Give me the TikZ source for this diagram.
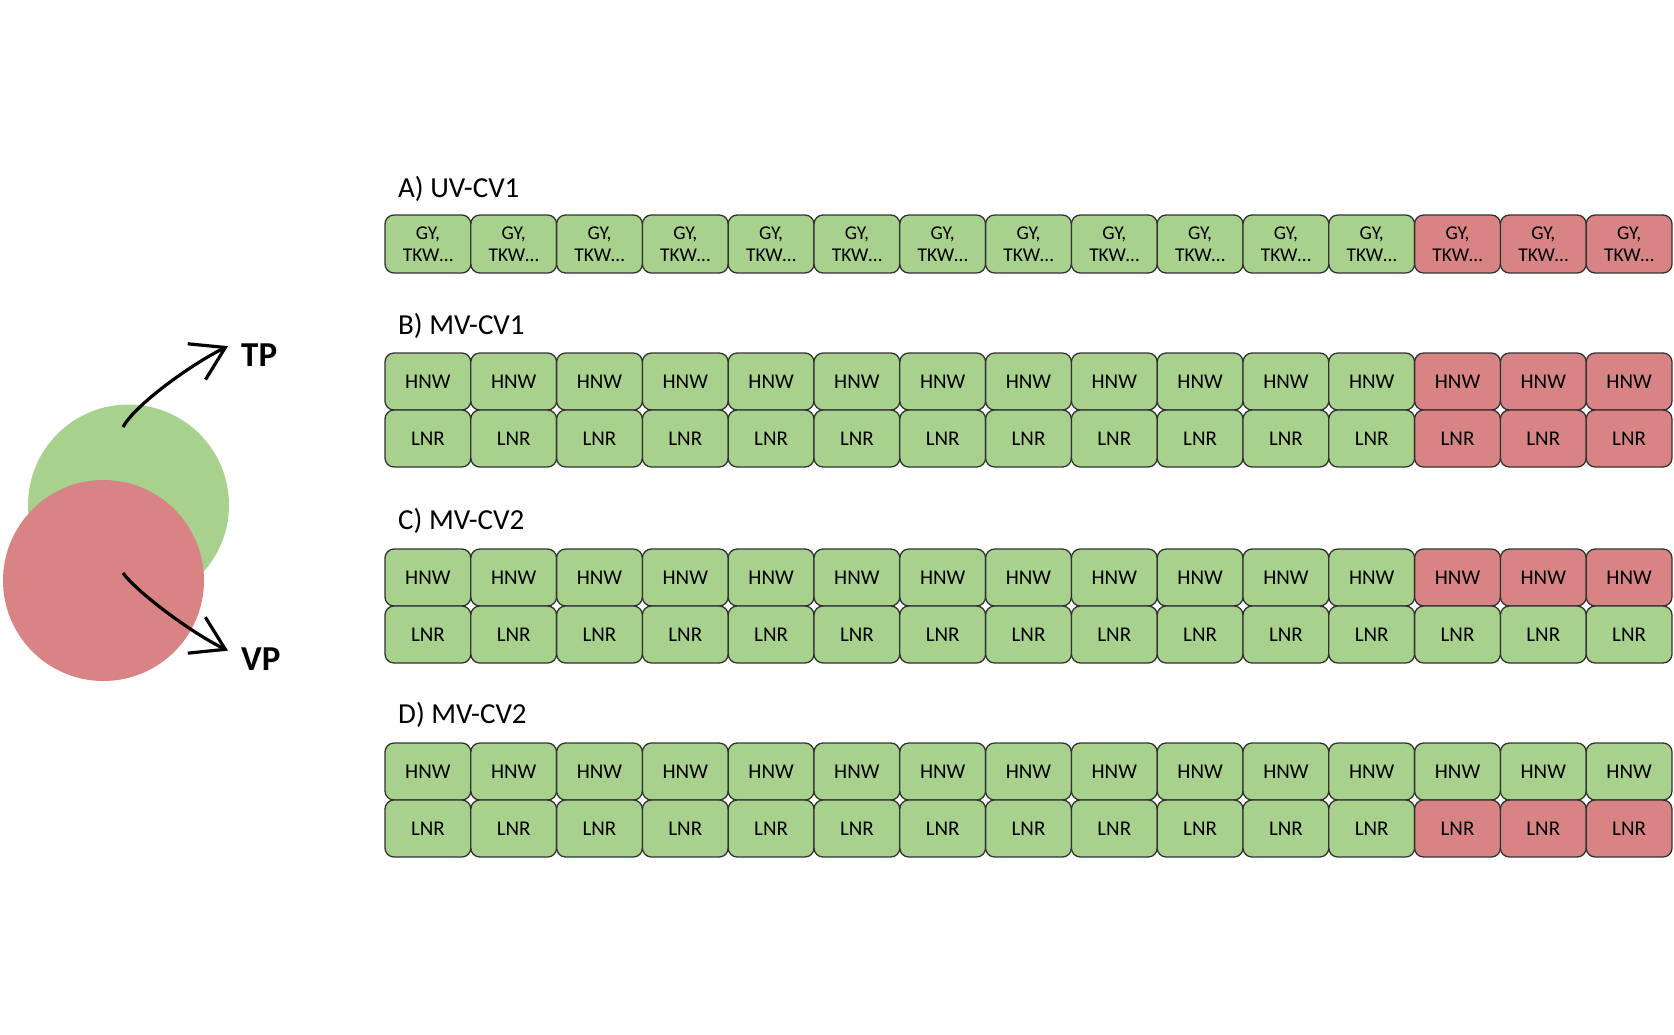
\documentclass[tikz,border=0pt]{standalone}
\usepackage{fontspec}
\setmainfont{Carlito}
\usetikzlibrary{arrows.meta}

\definecolor{okgreen}{RGB}{169,209,142}
\definecolor{badred}{RGB}{216,132,133}
\definecolor{celledge}{RGB}{50,50,50}

\begin{document}
\begin{tikzpicture}[
  x=1pt, y=-1pt,
  cell/.style={
    rectangle, rounded corners=9pt, draw=celledge, line width=1.3pt,
    minimum width=85.8pt, minimum height=57pt, inner sep=0pt,
    align=center, font=\fontsize{21}{23}\selectfont
  },
  cellA/.style={cell, minimum height=58pt, font=\fontsize{19.5}{22.5}\selectfont},
  rowlabel/.style={anchor=base west, inner sep=0pt, font=\fontsize{29}{33}\selectfont},
  disc/.style={circle, minimum size=201pt, inner sep=0pt},
  outcome/.style={anchor=base west, inner sep=0pt, font=\fontsize{35}{40}\selectfont\bfseries},
  curvearrow/.style={line width=3.2pt, -{Straight Barb[length=32pt, width=40pt]}}
]

\useasboundingbox (0,0) rectangle (1674,1034);

% --- Left: the two overlapping sets ---
\node[disc, fill=okgreen] (tpset) at (128.5,505) {};
\node[disc, fill=badred]  (vpset) at (103.5,580.5) {};

\node[outcome] (tp) at (241,366) {TP};
\node[outcome] (vp) at (241,670) {VP};

\coordinate (tpfrom) at (123,427);
\coordinate (vpfrom) at (123,573);

\draw[curvearrow] (tpfrom) .. controls (135,405) and (190,365) .. ([xshift=-13pt,yshift=-3pt]tp.north west);
\draw[curvearrow] (vpfrom) .. controls (137,592) and (190,632) .. ([xshift=-13pt,yshift=8pt]vp.west);

% =========================================================
% A) one row of GY, TKW... cells
% =========================================================
\node[rowlabel] (la) at (398,197) {A) UV-CV1};
\foreach \i in {1,...,15} {
  \pgfmathsetmacro{\cx}{342.1+85.8*\i}
  \ifnum\i>12 \def\tint{badred}\else\def\tint{okgreen}\fi
  \node[cellA, fill=\tint] (a-\i) at (\cx,244) {GY,\\TKW…};
}

% =========================================================
% B) both rows held out together
% =========================================================
\node[rowlabel] (lb) at (398,334) {B) MV-CV1};
\foreach \i in {1,...,15} {
  \pgfmathsetmacro{\cx}{342.1+85.8*\i}
  \ifnum\i>12 \def\tint{badred}\else\def\tint{okgreen}\fi
  \node[cell, fill=\tint] (bh-\i) at (\cx,381.5) {HNW};
  \node[cell, fill=\tint] (bl-\i) at (\cx,438.5) {LNR};
}

% =========================================================
% C) only HNW held out
% =========================================================
\node[rowlabel] (lc) at (398,529) {C) MV-CV2};
\foreach \i in {1,...,15} {
  \pgfmathsetmacro{\cx}{342.1+85.8*\i}
  \ifnum\i>12 \def\tint{badred}\else\def\tint{okgreen}\fi
  \node[cell, fill=\tint]   (ch-\i) at (\cx,577.5) {HNW};
  \node[cell, fill=okgreen] (cl-\i) at (\cx,634.5) {LNR};
}

% =========================================================
% D) only LNR held out
% =========================================================
\node[rowlabel] (ld) at (398,723) {D) MV-CV2};
\foreach \i in {1,...,15} {
  \pgfmathsetmacro{\cx}{342.1+85.8*\i}
  \ifnum\i>12 \def\tint{badred}\else\def\tint{okgreen}\fi
  \node[cell, fill=okgreen] (dh-\i) at (\cx,771.5) {HNW};
  \node[cell, fill=\tint]   (dl-\i) at (\cx,828.5) {LNR};
}

\end{tikzpicture}
\end{document}
